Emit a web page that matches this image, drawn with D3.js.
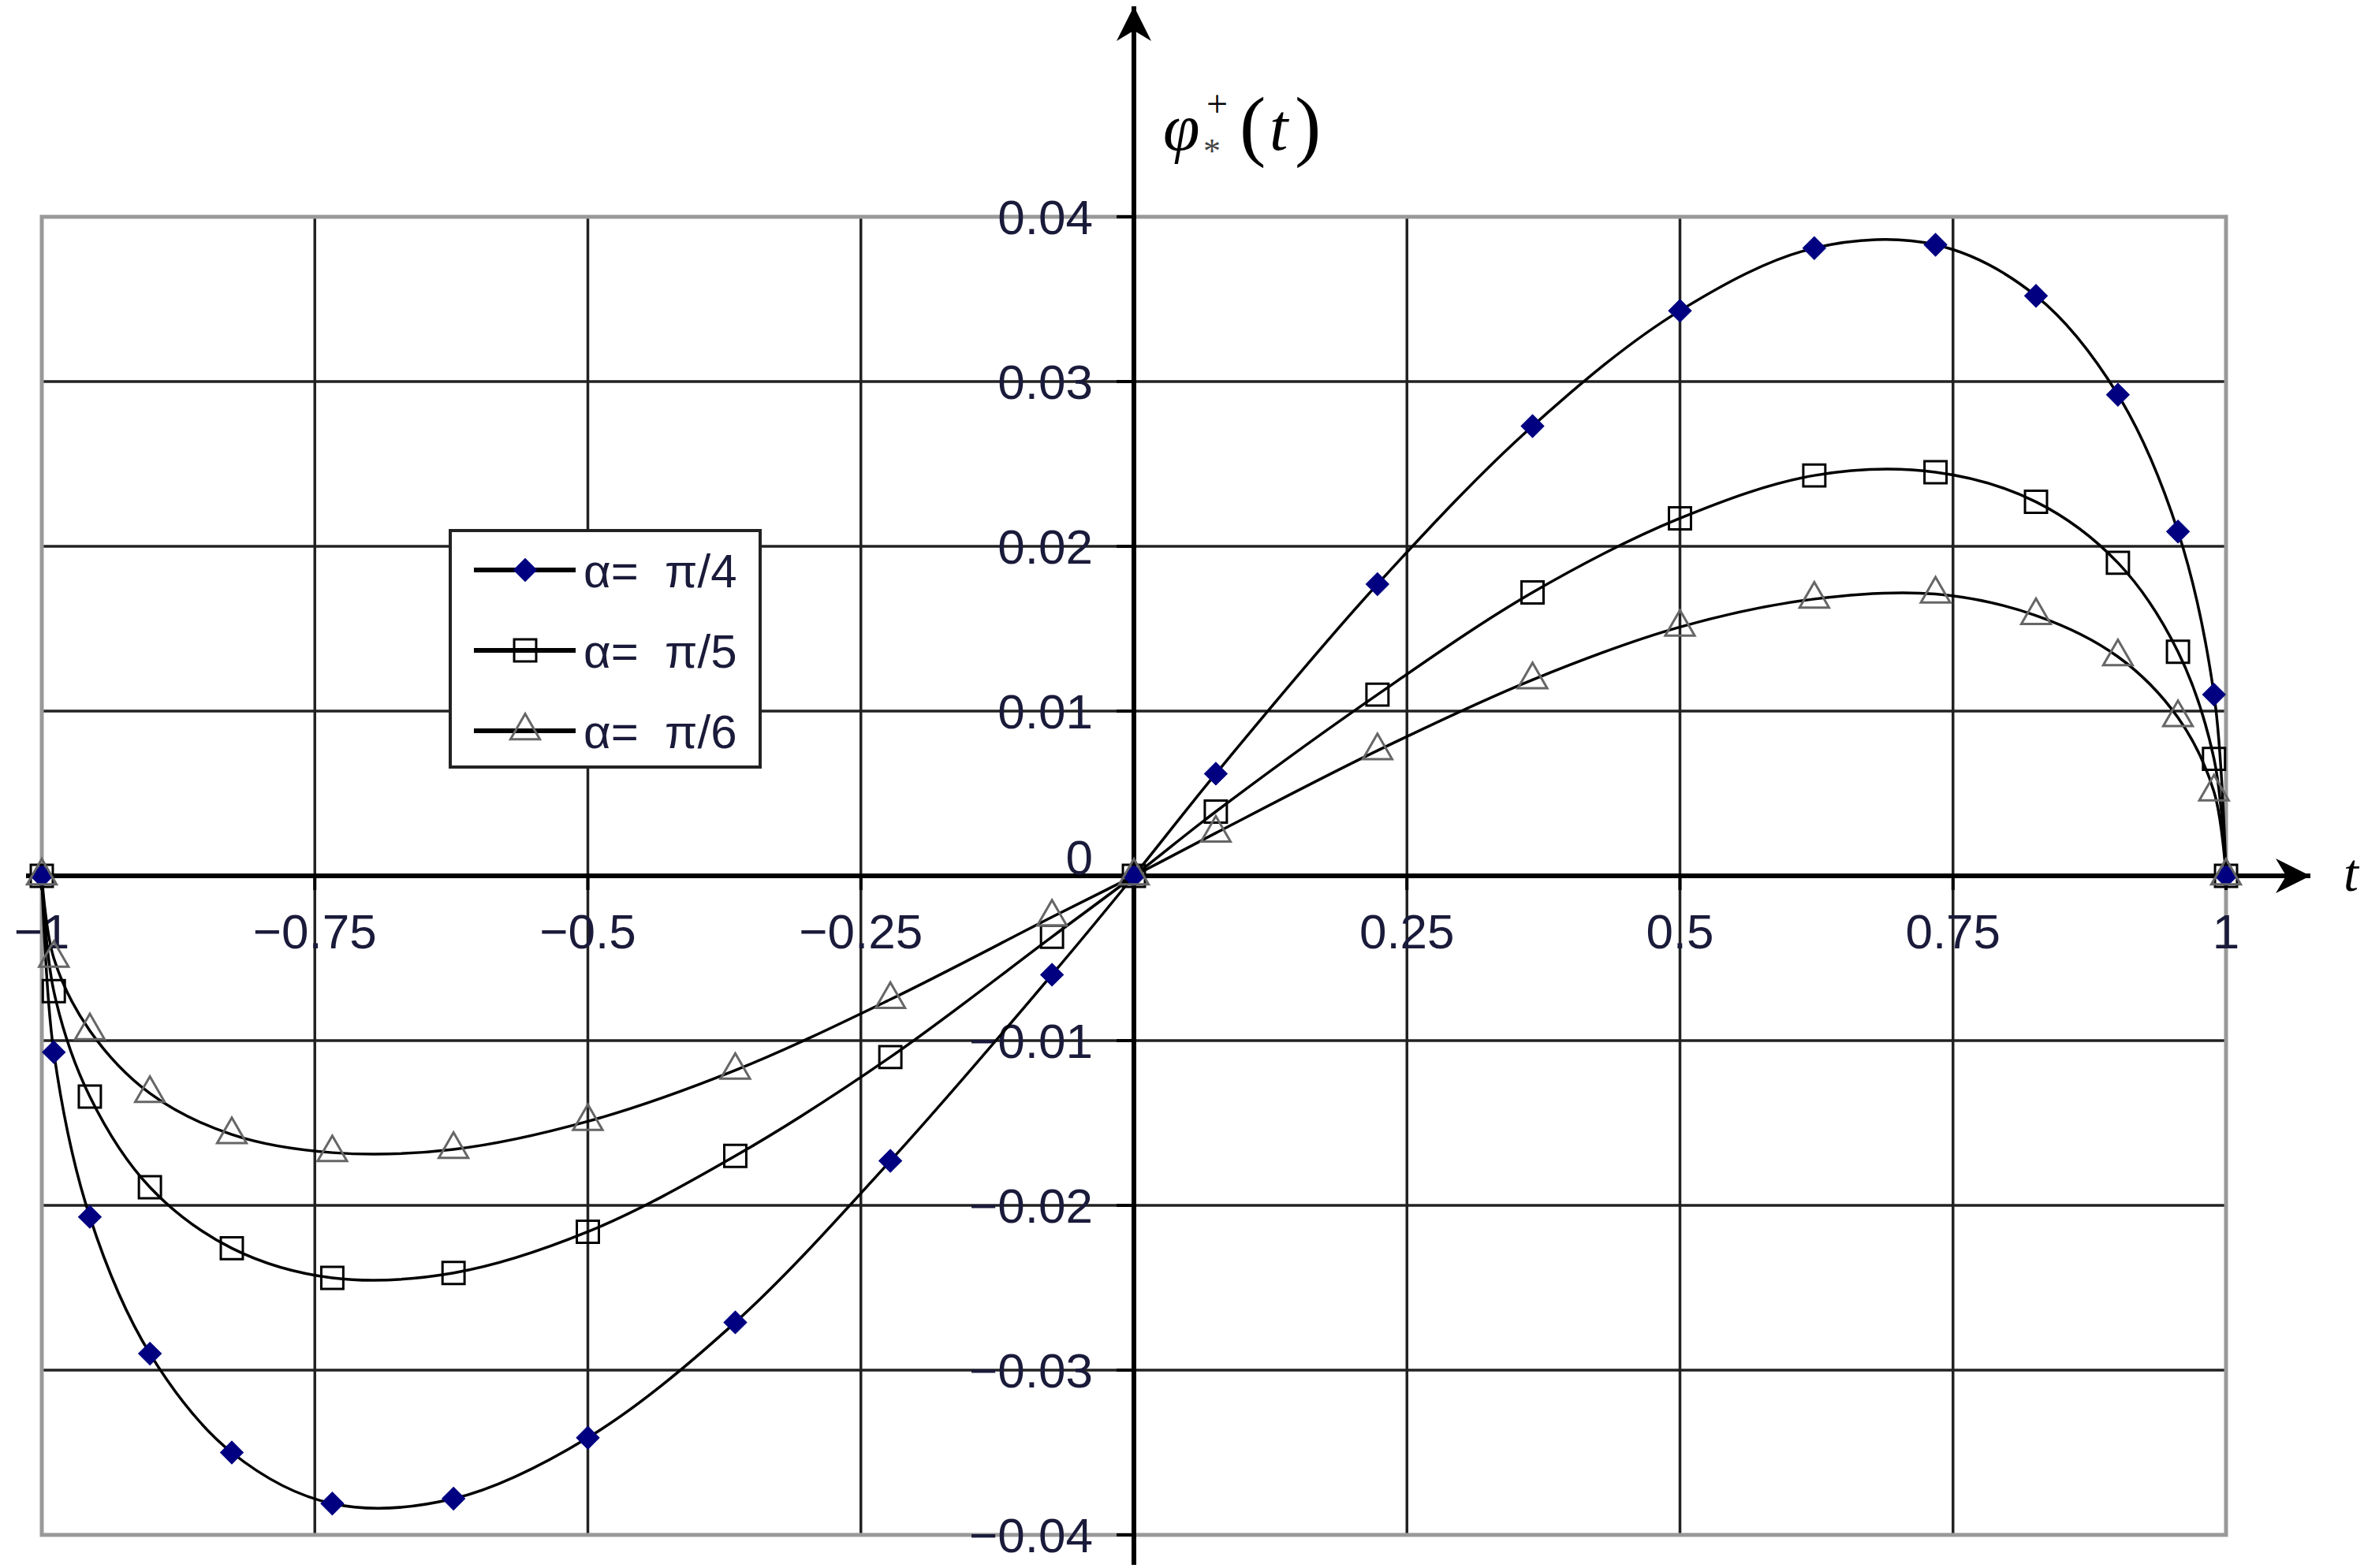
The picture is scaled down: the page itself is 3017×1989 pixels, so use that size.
<!DOCTYPE html>
<html><head><meta charset="utf-8">
<script src="https://cdn.jsdelivr.net/npm/d3@7"></script>
<style>body{margin:0;background:#fff}</style></head>
<body><svg id="c" width="3017" height="1989"></svg>
<script>
const tValues = [-1,-0.989,-0.956,-0.901,-0.826,-0.734,-0.623,-0.5,-0.365,-0.223,-0.075,0,0.075,0.223,0.365,0.5,0.623,0.734,0.826,0.901,0.956,0.989,1];
const seriesPi4 = [0,-0.0107,-0.0207,-0.0290,-0.0350,-0.0381,-0.0378,-0.0341,-0.0271,-0.0173,-0.0060,0,0.0062,0.0177,0.0273,0.0343,0.0381,0.0383,0.0352,0.0292,0.0209,0.0110,0];
const seriesPi5 = [0,-0.0070,-0.0134,-0.0189,-0.0226,-0.0244,-0.0241,-0.0216,-0.0170,-0.0110,-0.0037,0,0.0039,0.0110,0.0172,0.0217,0.0243,0.0245,0.0227,0.0190,0.0136,0.0071,0];
const seriesPi6 = [0,-0.0050,-0.0094,-0.0132,-0.0157,-0.0168,-0.0166,-0.0149,-0.0118,-0.0075,-0.0025,0,0.0026,0.0076,0.0119,0.0151,0.0168,0.0171,0.0158,0.0133,0.0096,0.0051,0];
const seriesNames = ["α=  π/4","α=  π/5","α=  π/6"];
const xTicks = [-1,-0.75,-0.5,-0.25,0,0.25,0.5,0.75,1];
const xTickLabels = ["−1","−0.75","−0.5","−0.25","","0.25","0.5","0.75","1"];
const yTicks = [-0.04,-0.03,-0.02,-0.01,0,0.01,0.02,0.03,0.04];
const yTickLabels = ["−0.04","−0.03","−0.02","−0.01","0","0.01","0.02","0.03","0.04"];

const svg = d3.select("#c");
const x = d3.scaleLinear().domain([-1,1]).range([53,2823]);
const y = d3.scaleLinear().domain([-0.04,0.04]).range([1947,275]);
const font = "Liberation Sans, Arial, sans-serif";

svg.append("g").selectAll("line").data(xTicks).join("line")
  .attr("x1",d=>x(d)).attr("x2",d=>x(d)).attr("y1",y(0.04)).attr("y2",y(-0.04))
  .attr("stroke","#222").attr("stroke-width",3.5);
svg.append("g").selectAll("line").data(yTicks).join("line")
  .attr("x1",x(-1)).attr("x2",x(1)).attr("y1",d=>y(d)).attr("y2",d=>y(d))
  .attr("stroke","#222").attr("stroke-width",3.5);
svg.append("rect").attr("x",x(-1)).attr("y",y(0.04)).attr("width",x(1)-x(-1)).attr("height",y(-0.04)-y(0.04))
  .attr("fill","none").attr("stroke","#999").attr("stroke-width",5);

const defs = svg.append("defs");
defs.append("marker").attr("id","arr").attr("viewBox","0 0 10 10").attr("refX",10).attr("refY",5)
  .attr("markerWidth",44).attr("markerHeight",44).attr("markerUnits","userSpaceOnUse").attr("orient","auto")
  .append("path").attr("d","M0,0 L10,5 L0,10 L3,5 Z").attr("fill","#000");
svg.append("line").attr("x1",x(-1)-20).attr("x2",2930).attr("y1",y(0)).attr("y2",y(0))
  .attr("stroke","#000").attr("stroke-width",6).attr("marker-end","url(#arr)");
svg.append("line").attr("x1",x(0)).attr("x2",x(0)).attr("y1",1985).attr("y2",8)
  .attr("stroke","#000").attr("stroke-width",6).attr("marker-end","url(#arr)");
svg.append("g").selectAll("line").data(yTicks).join("line")
  .attr("x1",x(0)-22).attr("x2",x(0)).attr("y1",d=>y(d)).attr("y2",d=>y(d)).attr("stroke","#000").attr("stroke-width",4);
svg.append("g").selectAll("line").data(xTicks).join("line")
  .attr("x1",d=>x(d)).attr("x2",d=>x(d)).attr("y1",y(0)).attr("y2",y(0)+18).attr("stroke","#000").attr("stroke-width",4);

svg.append("g").selectAll("text").data(yTicks).join("text")
  .attr("x",x(0)-52).attr("y",d=>y(d)+(d===0?-2:22)).attr("text-anchor","end")
  .attr("font-family",font).attr("font-size",62).attr("fill","#1a1a3a")
  .text((d,i)=>yTickLabels[i]);
svg.append("g").selectAll("text").data(xTicks).join("text")
  .attr("x",d=>x(d)).attr("y",y(0)+92).attr("text-anchor","middle")
  .attr("font-family",font).attr("font-size",62).attr("fill","#1a1a3a")
  .text((d,i)=>xTickLabels[i]);

svg.append("text").attr("x",1475).attr("y",190).attr("font-family","Liberation Serif, Times New Roman, serif").attr("font-size",84).attr("font-style","italic").text("φ");
svg.append("text").attr("x",1530).attr("y",148).attr("font-family","Liberation Serif, serif").attr("font-size",48).text("+");
svg.append("text").attr("x",1526).attr("y",206).attr("font-family","Liberation Serif, serif").attr("font-size",44).attr("fill","#444").text("*");
svg.append("text").attr("x",1572).attr("y",192).attr("font-family","Liberation Serif, serif").attr("font-size",100).text("(");
svg.append("text").attr("x",1610).attr("y",190).attr("font-family","Liberation Serif, serif").attr("font-size",84).attr("font-style","italic").text("t");
svg.append("text").attr("x",1642).attr("y",192).attr("font-family","Liberation Serif, serif").attr("font-size",100).text(")");
svg.append("text").attr("x",2972).attr("y",1130).attr("font-family","Liberation Serif, serif").attr("font-size",68).attr("font-style","italic").text("t");

const allSeries = [seriesPi4, seriesPi5, seriesPi6];
const line = d3.line().x((d,i)=>x(tValues[i])).y(d=>y(d)).curve(d3.curveCatmullRom.alpha(0.5));
const sym = [d3.symbolSquare, d3.symbolSquare, d3.symbolTriangle];
const symSize = [420, 780, 600];
const strokes = ["#000080","#000","#666"];
allSeries.forEach(s=>{
  svg.append("path").datum(s).attr("d",line).attr("fill","none").attr("stroke","#000").attr("stroke-width",3.5);
});
function drawMarker(g,k,cx,cy){
  g.append("path").attr("d",d3.symbol().type(sym[k]).size(symSize[k])())
    .attr("transform",`translate(${cx},${cy})`+(k===0?" rotate(45)":""))
    .attr("fill",k===0?"#000080":"#fff").attr("fill-opacity",k===0?1:0)
    .attr("stroke",strokes[k]).attr("stroke-width",k===0?1:3);
}
allSeries.forEach((s,k)=>{
  const g = svg.append("g");
  s.forEach((v,i)=>drawMarker(g,k,x(tValues[i]),y(v)));
});

svg.append("rect").attr("x",571).attr("y",673).attr("width",393).attr("height",300)
  .attr("fill","#fff").attr("stroke","#222").attr("stroke-width",4);
seriesNames.forEach((n,k)=>{
  const cy = 723 + k*102;
  svg.append("line").attr("x1",601).attr("x2",730).attr("y1",cy).attr("y2",cy).attr("stroke","#000").attr("stroke-width",6);
  const g = svg.append("g"); drawMarker(g,k,666,cy);
  svg.append("text").attr("x",740).attr("y",cy+22).attr("font-family",font).attr("font-size",60).attr("fill","#1a1a3a")
    .style("white-space","pre").text(n);
});
</script></body></html>
